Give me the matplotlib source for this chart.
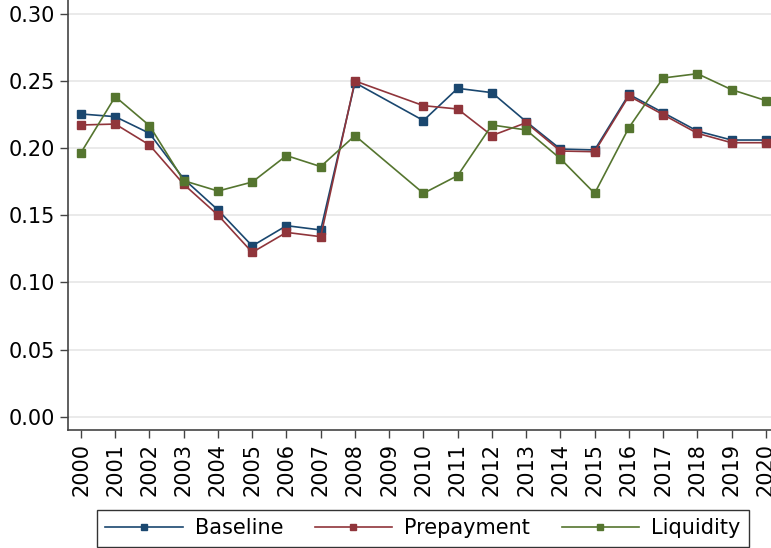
import numpy as np
import matplotlib
matplotlib.use("Agg")
import matplotlib.pyplot as plt

years = [2000, 2001, 2002, 2003, 2004, 2005, 2006, 2007, 2008,
         2010, 2011, 2012, 2013, 2014, 2015, 2016, 2017, 2018, 2019, 2020]
tick_years = list(range(2000, 2021))

baseline = [0.2255, 0.2235, 0.2111, 0.1771, 0.1540, 0.1272, 0.1423, 0.1391, 0.2488,
            0.2206, 0.2446, 0.2414, 0.2198, 0.1994, 0.1987, 0.2401, 0.2265, 0.2128, 0.2061, 0.2061]
prepayment = [0.2173, 0.2180, 0.2024, 0.1731, 0.1502, 0.1224, 0.1373, 0.1341, 0.2501,
              0.2317, 0.2292, 0.2094, 0.2190, 0.1979, 0.1974, 0.2389, 0.2250, 0.2111, 0.2041, 0.2041]
liquidity = [0.1967, 0.2384, 0.2168, 0.1758, 0.1681, 0.1748, 0.1945, 0.1863, 0.2094,
             0.1664, 0.1796, 0.2173, 0.2136, 0.1922, 0.1664, 0.2153, 0.2523, 0.2555, 0.2436, 0.2355]

yticks = [0.00, 0.05, 0.10, 0.15, 0.20, 0.25, 0.30]

fig = plt.figure(figsize=(7.71, 5.48), dpi=100)
ax = fig.add_axes([68 / 771, 1 - 430 / 548, 1 - 68 / 771, 430 / 548])

ax.plot(years, baseline, color="#1a476f", marker="s", markersize=6, linewidth=1.2, label="Baseline")
ax.plot(years, prepayment, color="#90353b", marker="s", markersize=6, linewidth=1.2, label="Prepayment")
ax.plot(years, liquidity, color="#55752f", marker="s", markersize=6, linewidth=1.2, label="Liquidity")

ax.set_xlim(1999.62, 2020.15)
ax.set_ylim(-0.0099, 0.3104)
ax.set_yticks(yticks)
ax.set_yticklabels(["%.2f" % v for v in yticks], fontsize=15)
ax.set_xticks(tick_years)
ax.set_xticklabels([str(y) for y in tick_years], rotation=90, fontsize=15)
ax.yaxis.grid(True, color="#e6e6e6", linewidth=1.2)
ax.set_axisbelow(True)
ax.tick_params(direction="out", length=6, width=1, color="#444444")

for s in ["top", "right"]:
    ax.spines[s].set_visible(False)
for s in ["left", "bottom"]:
    ax.spines[s].set_color("#444444")
    ax.spines[s].set_linewidth(1.2)

leg = fig.legend(loc="center", bbox_to_anchor=(0.5486, 0.0356), ncol=3, fontsize=15,
                 frameon=True, fancybox=False, handlelength=3.7, handletextpad=0.6,
                 columnspacing=1.5, borderpad=0.4, markerscale=0.8)
leg.get_frame().set_edgecolor("black")
leg.get_frame().set_linewidth(1.0)

plt.savefig("out.png", dpi=100)
